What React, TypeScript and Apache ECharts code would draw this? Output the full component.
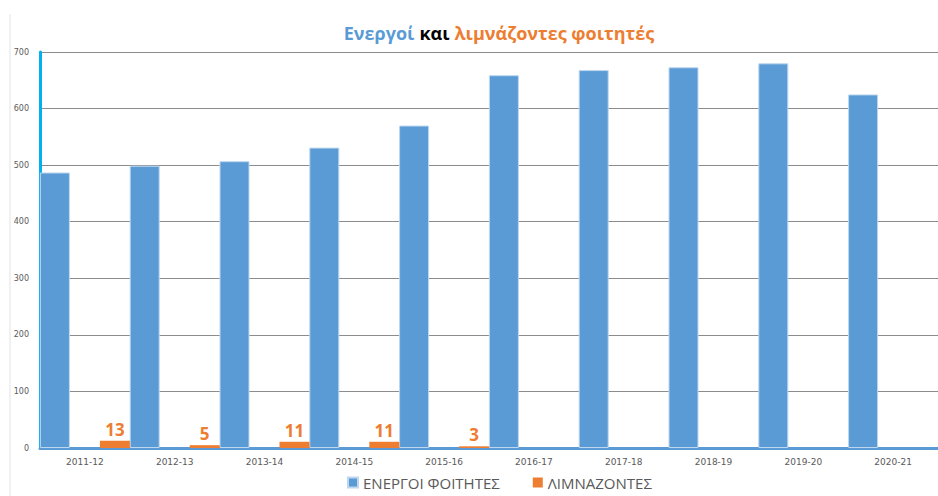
import React, { useEffect, useRef } from "react";
import * as echarts from "echarts";

const categories = ["2011-12", "2012-13", "2013-14", "2014-15", "2015-16", "2016-17", "2017-18", "2018-19", "2019-20", "2020-21"];
const activeStudents = [487, 499, 507, 531, 570, 659, 668, 673, 680, 625];
const inactiveStudents = [13, 5, 11, 11, 3, 0, 0, 0, 0, 0];
const seriesNames = ["ΕΝΕΡΓΟΙ ΦΟΙΤΗΤΕΣ", "ΛΙΜΝΑΖΟΝΤΕΣ"];

export default function App() {
  const ref = useRef<HTMLDivElement>(null);
  useEffect(() => {
    if (!ref.current) return;
    const chart = echarts.init(ref.current, null, { renderer: "svg" });
    chart.setOption({
      animation: false,
      backgroundColor: "#ffffff",
      title: {
        text: "{a|Ενεργοί} {b|και} {c|λιμνάζοντες φοιτητές}",
        left: 494,
        textAlign: "center",
        top: 19,
        textStyle: {
          rich: {
            a: { color: "#5b9bd5", fontSize: 18, fontWeight: "bold", fontFamily: "Open Sans" },
            b: { color: "#000000", fontSize: 18, fontWeight: "bold", fontFamily: "Open Sans" },
            c: { color: "#ed7d31", fontSize: 18, fontWeight: "bold", fontFamily: "Open Sans" },
          },
        },
      },
      legend: {
        bottom: 1,
        left: 342,
        icon: "rect",
        itemWidth: 10,
        itemHeight: 10,
        itemGap: 33,
        textStyle: { fontSize: 15, color: "#595959", fontFamily: "Open Sans" },
        data: seriesNames,
      },
      grid: { left: 40, top: 52, width: 900, height: 396, containLabel: false },
      xAxis: {
        type: "category",
        data: categories,
        axisTick: { show: false },
        axisLine: { lineStyle: { color: "#5b9bd5", width: 3 } },
        axisLabel: { fontSize: 9, color: "#595959", margin: 9, fontFamily: "DejaVu Sans" },
      },
      yAxis: {
        type: "value",
        min: 0,
        max: 700,
        interval: 100,
        axisLine: { show: true, lineStyle: { color: "#00b0f0", width: 3 } },
        axisTick: { show: false },
        axisLabel: { fontSize: 8, color: "#595959", margin: 11, fontFamily: "DejaVu Sans" },
        splitLine: { lineStyle: { color: "#8c8c8c", width: 1 } },
      },
      series: [
        {
          name: seriesNames[0],
          type: "bar",
          data: activeStudents,
          barWidth: 30,
          barGap: "100%",
          barCategoryGap: 0,
          itemStyle: { color: "#5b9bd5", borderColor: "#bdd7ee", borderWidth: 1 },
        },
        {
          name: seriesNames[1],
          type: "bar",
          data: inactiveStudents,
          barWidth: 30,
          barGap: "100%",
          barCategoryGap: 0,
          itemStyle: { color: "#ed7d31", borderWidth: 0 },
          label: {
            show: true,
            position: "top",
            distance: 3,
            color: "#ed7d31",
            fontSize: 17,
            fontWeight: "bold",
            fontFamily: "Open Sans",
            formatter: (p: any) => (p.value ? String(p.value) : ""),
          },
        },
      ],
      graphic: [
        {
          type: "line",
          shape: { x1: 10, y1: 14, x2: 10, y2: 496 },
          style: { stroke: "#e3e3e3", lineWidth: 1 },
        },
      ],
    });
    return () => chart.dispose();
  }, []);
  return <div ref={ref} style={{ position: "fixed", left: 0, top: 0, width: 938, height: 496 }} />;
}
